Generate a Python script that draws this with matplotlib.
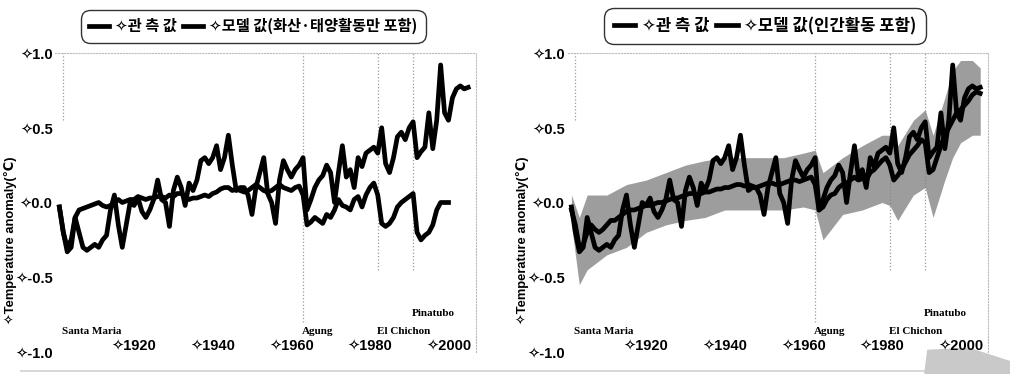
import numpy as np
import matplotlib
matplotlib.use('Agg')
import matplotlib.pyplot as plt
from matplotlib.lines import Line2D
from matplotlib.font_manager import FontProperties
from matplotlib.patches import Polygon

plt.rcParams['font.family'] = ['Liberation Sans', 'DejaVu Sans']

# ---- data ----
obs_years = list(range(1901, 2006))
obs = [-0.03, -0.20, -0.33, -0.30, -0.10, -0.20, -0.30, -0.32, -0.30, -0.28,
       -0.30, -0.25, -0.22, -0.05, 0.05, -0.15, -0.30, -0.15, 0.00, -0.02,
       0.03, -0.06, -0.10, -0.05, 0.02, 0.15, 0.02, 0.00, -0.16, 0.08,
       0.17, 0.10, -0.02, 0.13, 0.08, 0.15, 0.28, 0.30, 0.26, 0.30,
       0.38, 0.22, 0.30, 0.45, 0.25, 0.08, 0.10, 0.10, 0.05, -0.08,
       0.10, 0.20, 0.30, 0.06, 0.00, -0.14, 0.15, 0.28, 0.22, 0.17,
       0.22, 0.25, 0.30, -0.05, 0.02, 0.10, 0.15, 0.18, 0.25, 0.20,
       0.00, 0.20, 0.38, 0.17, 0.22, 0.10, 0.30, 0.24, 0.33, 0.35,
       0.37, 0.33, 0.50, 0.26, 0.20, 0.30, 0.44, 0.47, 0.42, 0.50,
       0.54, 0.30, 0.34, 0.37, 0.60, 0.36, 0.55, 0.92, 0.60, 0.55,
       0.70, 0.76, 0.78, 0.76, 0.77]

nat_years = list(range(1901, 2001))
model_nat = [-0.03, -0.20, -0.30, -0.25, -0.10, -0.05, -0.04, -0.03, -0.02, -0.01,
             0.00, -0.02, -0.03, -0.02, 0.00, 0.02, 0.00, 0.01, 0.02, 0.02,
             0.04, 0.03, 0.02, 0.03, 0.03, 0.04, 0.04, 0.03, 0.05, 0.04,
             0.06, 0.06, 0.04, 0.02, 0.03, 0.03, 0.04, 0.05, 0.04, 0.06,
             0.07, 0.09, 0.10, 0.10, 0.08, 0.09, 0.08, 0.07, 0.08, 0.10,
             0.12, 0.10, 0.08, 0.07, 0.08, 0.10, 0.12, 0.10, 0.09, 0.08,
             0.10, 0.11, 0.05, -0.15, -0.13, -0.10, -0.12, -0.14, -0.08, -0.10,
             -0.05, 0.02, -0.02, -0.03, -0.05, 0.02, 0.04, -0.03, 0.05, 0.10,
             0.13, 0.05, -0.14, -0.16, -0.14, -0.10, -0.03, 0.00, 0.02, 0.04,
             0.06, -0.20, -0.25, -0.22, -0.20, -0.15, -0.05, 0.00, 0.00, 0.00]

all_years = list(range(1901, 2006))
model_all = [-0.05, -0.15, -0.30, -0.28, -0.20, -0.15, -0.18, -0.20, -0.18, -0.15,
             -0.12, -0.12, -0.10, -0.08, -0.06, -0.05, -0.05, -0.04, -0.03, -0.02,
             -0.02, -0.01, 0.00, 0.00, 0.01, 0.02, 0.03, 0.03, 0.04, 0.05,
             0.06, 0.06, 0.05, 0.06, 0.07, 0.07, 0.08, 0.09, 0.09, 0.10,
             0.10, 0.11, 0.12, 0.12, 0.11, 0.12, 0.11, 0.10, 0.11, 0.12,
             0.13, 0.13, 0.12, 0.12, 0.13, 0.14, 0.15, 0.15, 0.14, 0.15,
             0.16, 0.17, 0.12, -0.05, -0.03, 0.02, 0.05, 0.06, 0.10, 0.12,
             0.13, 0.15, 0.17, 0.15, 0.16, 0.15, 0.20, 0.22, 0.25, 0.28,
             0.30, 0.25, 0.15, 0.18, 0.22, 0.27, 0.32, 0.35, 0.38, 0.42,
             0.40, 0.20, 0.22, 0.30, 0.38, 0.45, 0.50, 0.55, 0.60, 0.62,
             0.65, 0.68, 0.72, 0.74, 0.73]

# spread of the individual model runs (right panel)
band_years = [1901, 1903, 1905, 1910, 1915, 1920, 1925, 1930, 1935, 1940, 1945,
              1950, 1955, 1960, 1963, 1965, 1970, 1975, 1980, 1982, 1984, 1988,
              1991, 1993, 1996, 1998, 2000, 2003, 2005]
band_hi = [0.05, -0.10, 0.05, 0.05, 0.12, 0.15, 0.20, 0.25, 0.28, 0.30, 0.30,
           0.30, 0.30, 0.33, 0.35, 0.20, 0.30, 0.38, 0.45, 0.45, 0.38, 0.55,
           0.62, 0.45, 0.70, 0.88, 0.95, 0.95, 0.90]
band_lo = [-0.15, -0.55, -0.45, -0.35, -0.30, -0.20, -0.15, -0.12, -0.10, -0.05, -0.05,
           -0.05, -0.05, -0.03, -0.05, -0.25, -0.08, -0.05, 0.00, -0.02, -0.12, 0.05,
           0.10, -0.10, 0.15, 0.30, 0.40, 0.45, 0.45]

volcanoes = ['Santa Maria', 'Agung', 'El Chichon', 'Pinatubo']
volc_years = [1902, 1963, 1982, 1991]
volc_label_y = [-0.86, -0.86, -0.86, -0.74]
volc_line_bottom = [0.55, -0.80, -0.45, -0.45]

xticks = [1920, 1940, 1960, 1980, 2000]
yticks = [-1.0, -0.5, 0.0, 0.5, 1.0]
legend_labels = [['✧관 측 값', '✧모델 값(화산·태양활동만 포함)'],
                 ['✧관 측 값', '✧모델 값(인간활동 포함)']]
legend_sizes = [11, 12]
ylabel = '✧Temperature anomaly(℃)'

fig = plt.figure(figsize=(10.1, 3.74), dpi=100)

# grey scanning smudges from the source image (drawn first, behind the axes)
fig.add_artist(Polygon([[0.02, 0.006], [0.98, 0.006], [0.98, 0.011], [0.02, 0.011]],
                       closed=True, transform=fig.transFigure, color='#d8d8d8', lw=0, zorder=0))
fig.add_artist(Polygon([[0.915, 0.0], [1.0, 0.0], [1.0, 0.035], [0.96, 0.07], [0.918, 0.065]],
                       closed=True, transform=fig.transFigure, color='#c9c9c9', lw=0, zorder=0))

ax_l = fig.add_axes([0.0549, 0.0588, 0.4164, 0.7995])
ax_r = fig.add_axes([0.5619, 0.0588, 0.4164, 0.7995])

for i, ax in enumerate([ax_l, ax_r]):
    ax.set_facecolor('none')
    ax.set_xlim(1900, 2007)
    ax.set_ylim(-1.0, 1.0)

    # volcanic eruption markers
    ax.vlines(volc_years, volc_line_bottom, 1.0, colors='#9a9a9a',
              linestyles=':', linewidth=0.9, zorder=1)
    for name, yr, ly in zip(volcanoes, volc_years, volc_label_y):
        ax.text(yr - 0.3, ly, name, fontsize=8, fontweight='bold',
                family=['Liberation Serif', 'DejaVu Serif'], ha='left', va='center')

    if i == 0:
        ax.plot(nat_years, model_nat, color='black', lw=3.4, zorder=3)
    else:
        ax.fill_between(band_years, band_lo, band_hi, color='#7d7d7d', alpha=0.75,
                        linewidth=0, zorder=2)
        ax.plot(all_years, model_all, color='black', lw=3.4, zorder=3)
    ax.plot(obs_years, obs, color='black', lw=3.4, zorder=4)

    ax.set_xticks(xticks)
    ax.set_xticklabels(['✧%d' % t for t in xticks], fontsize=10.5, fontweight='bold')
    ax.set_yticks(yticks)
    ax.set_yticklabels(['✧%.1f' % t for t in yticks], fontsize=10.5, fontweight='bold')
    ax.tick_params(axis='x', length=0, pad=-10)
    ax.tick_params(axis='y', length=0, pad=2)

    for s in ['left', 'bottom']:
        ax.spines[s].set_visible(False)
    for s in ['top', 'right']:
        ax.spines[s].set_color('#bbbbbb')
        ax.spines[s].set_linestyle(':')
        ax.spines[s].set_linewidth(0.8)

    ax.set_ylabel(ylabel, fontsize=9.3, fontweight='bold')
    ax.yaxis.set_label_coords(-0.092, 0.375)

    leg_font = FontProperties(family=['Noto Sans CJK KR', 'DejaVu Sans'], weight='bold',
                              size=legend_sizes[i])
    handles = [Line2D([], [], color='black', lw=3.4), Line2D([], [], color='black', lw=3.4)]
    leg = ax.legend(handles, legend_labels[i], ncol=2, loc='center',
                    bbox_to_anchor=(0.47, 1.09), prop=leg_font, frameon=True,
                    fancybox=True, edgecolor='black', handlelength=1.3,
                    handletextpad=0.4, columnspacing=0.4, borderpad=0.25,
                    borderaxespad=0)
    leg.get_frame().set_linewidth(1.0)
    leg.get_frame().set_boxstyle('round,pad=0.3,rounding_size=0.6')

fig.savefig('out.png', dpi=100)
